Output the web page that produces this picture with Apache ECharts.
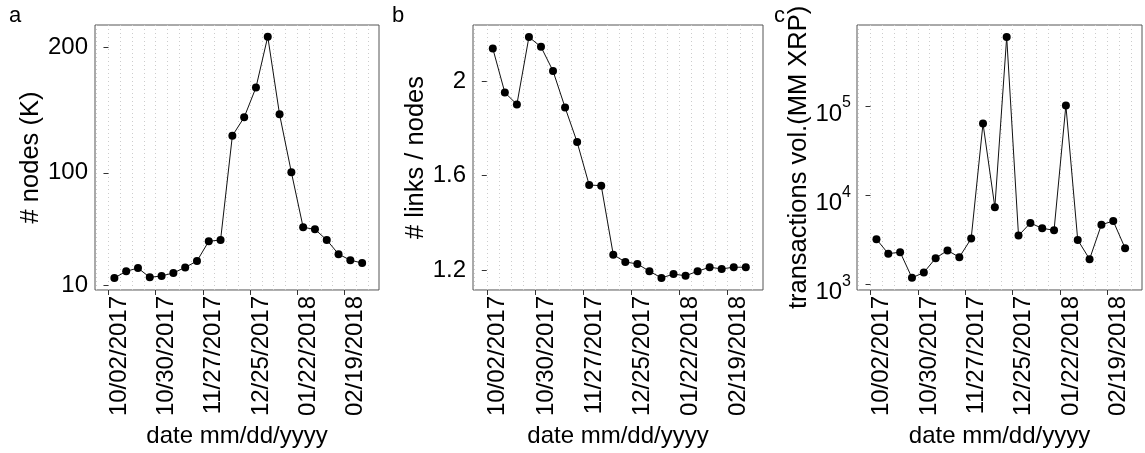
<!DOCTYPE html>
<html>
<head>
<meta charset="utf-8">
<script src="https://cdn.jsdelivr.net/npm/echarts@6/dist/echarts.min.js"></script>
<style>
html, body { margin: 0; padding: 0; background: #fff; }
#chart { width: 1145px; height: 453px; }
</style>
</head>
<body>
<div id="chart"></div>
<script>
// weekly values, each plotted in the middle of its week
var weeks = ['2017-10-05T12:00', '2017-10-12T12:00', '2017-10-19T12:00', '2017-10-26T12:00',
  '2017-11-02T12:00', '2017-11-09T12:00', '2017-11-16T12:00', '2017-11-23T12:00',
  '2017-11-30T12:00', '2017-12-07T12:00', '2017-12-14T12:00', '2017-12-21T12:00',
  '2017-12-28T12:00', '2018-01-04T12:00', '2018-01-11T12:00', '2018-01-18T12:00',
  '2018-01-25T12:00', '2018-02-01T12:00', '2018-02-08T12:00', '2018-02-15T12:00',
  '2018-02-22T12:00', '2018-03-01T12:00']
var nodes = [16.1, 21.4, 24, 16.6, 17.7, 20.1, 24.5, 29.6, 45.4, 46.4, 129.6,
  144.3, 168.1, 208.7, 146.7, 100.5, 56.5, 54.9, 46.4, 35.1, 30.3, 28]
var linksPerNode = [2.137, 1.951, 1.901, 2.185, 2.144, 2.042, 1.888, 1.742, 1.561, 1.558, 1.267,
  1.236, 1.228, 1.197, 1.169, 1.185, 1.178, 1.197, 1.214, 1.207, 1.214, 1.214]
var txVolume = [3200, 2200, 2290, 1180, 1350, 1960, 2390, 2010, 3250, 63600, 7320,
  596000, 3510, 4860, 4240, 4030, 101700, 3140, 1910, 4660, 5110, 2540]

var dateTicks = ['2017-10-02', '2017-10-30', '2017-11-27', '2017-12-25', '2018-01-22', '2018-02-19']
var weekLines = ['2017-09-25', '2017-10-02', '2017-10-09', '2017-10-16', '2017-10-23', '2017-10-30',
  '2017-11-06', '2017-11-13', '2017-11-20', '2017-11-27', '2017-12-04', '2017-12-11',
  '2017-12-18', '2017-12-25', '2018-01-01', '2018-01-08', '2018-01-15', '2018-01-22',
  '2018-01-29', '2018-02-05', '2018-02-12', '2018-02-19', '2018-02-26', '2018-03-05']
var nodesTicks = [10, 100, 200]
var ratioTicks = [1.2, 1.6, 2]
var volumeTicks = [1000, 10000, 100000]

var FONT = 'Liberation Sans'
var DAY = 86400000
var ORIGIN = Date.parse('2017-10-02T00:00Z')

// date string -> days since 10/02/2017 (x axes are in days)
function day (s) {
  return (Date.parse(s.length === 10 ? s + 'T00:00Z' : s + 'Z') - ORIGIN) / DAY
}
function pad (n) {
  return n < 10 ? '0' + n : '' + n
}
// the empty first line pushes the rotated label to the right of its tick
function fmtDate (v) {
  var d = new Date(ORIGIN + v * DAY)
  return '\n' + pad(d.getUTCMonth() + 1) + '/' + pad(d.getUTCDate()) + '/' + d.getUTCFullYear()
}
function zip (xs, ys) {
  return xs.map(function (x, i) { return [day(x), ys[i]] })
}

var xMin = day('2017-09-24')
var xMax = day('2018-03-11T12:00')
var tickDays = dateTicks.map(day)
var lineDays = weekLines.map(day)

var grids = [
  { left: 95, top: 25, width: 284, height: 266 },
  { left: 473, top: 25, width: 290, height: 266 },
  { left: 857, top: 25, width: 285, height: 266 }
]

var xAxes = []
grids.forEach(function (g, i) {
  xAxes.push({
    type: 'value',
    gridIndex: i,
    min: xMin,
    max: xMax,
    position: 'bottom',
    name: 'date mm/dd/yyyy',
    nameLocation: 'middle',
    nameGap: 133,
    nameTextStyle: { fontFamily: FONT, fontSize: 24, color: '#000' },
    axisLine: { show: false },
    axisTick: { customValues: tickDays, length: 5, lineStyle: { color: '#333' } },
    axisLabel: {
      customValues: tickDays,
      rotate: 90,
      margin: 6,
      lineHeight: 22,
      fontFamily: FONT,
      fontSize: 24,
      color: '#000',
      formatter: fmtDate
    },
    splitLine: { show: false }
  })
  // weekly dotted grid lines
  xAxes.push({
    type: 'value',
    gridIndex: i,
    min: xMin,
    max: xMax,
    position: 'top',
    axisLine: { show: false },
    axisTick: { show: false, customValues: lineDays },
    axisLabel: { show: false },
    splitLine: { show: true, lineStyle: { color: '#cccccc', type: [1, 3], width: 1 } }
  })
})

function yAxis (i, name, gap, extra) {
  return Object.assign({
    gridIndex: i,
    name: name,
    nameLocation: 'middle',
    nameRotate: 90,
    nameGap: gap,
    nameTextStyle: { fontFamily: FONT, fontSize: 25.5, color: '#000' },
    axisLine: { show: false },
    splitLine: { show: false }
  }, extra)
}

var yAxes = [
  yAxis(0, '# nodes (K)', 39, {
    type: 'value',
    min: 6.5,
    max: 218,
    axisTick: { customValues: nodesTicks, length: 5, lineStyle: { color: '#333' } },
    axisLabel: { customValues: nodesTicks, margin: 7, fontFamily: FONT, fontSize: 24, color: '#000' }
  }),
  yAxis(1, '# links / nodes', 41, {
    type: 'value',
    min: 1.118,
    max: 2.236,
    axisTick: { customValues: ratioTicks, length: 5, lineStyle: { color: '#333' } },
    axisLabel: { customValues: ratioTicks, margin: 7, fontFamily: FONT, fontSize: 24, color: '#000' }
  }),
  yAxis(2, 'transactions vol.(MM XRP)', 45, {
    type: 'log',
    min: 861,
    max: 812800,
    axisTick: { customValues: volumeTicks, length: 5, lineStyle: { color: '#333' } },
    axisLabel: {
      customValues: volumeTicks,
      margin: 6,
      formatter: function (v) {
        return '{b|10}{s|' + Math.round(Math.log10(v)) + '}'
      },
      rich: {
        b: { fontFamily: FONT, fontSize: 24, color: '#000', lineHeight: 24, padding: [16, 0, 0, 0] },
        s: { fontFamily: FONT, fontSize: 16, color: '#000', lineHeight: 16, padding: [9, 0, 15, 0] }
      }
    }
  })
]

function lineSeries (i, values) {
  return {
    type: 'line',
    xAxisIndex: i * 2,
    yAxisIndex: i,
    data: zip(weeks, values),
    symbol: 'circle',
    symbolSize: 8,
    itemStyle: { color: '#000' },
    lineStyle: { color: '#111', width: 1 },
    emphasis: { disabled: true }
  }
}

function letter (text, left) {
  return { text: text, left: left, top: 5, padding: 0, textStyle: { fontFamily: FONT, fontSize: 22, fontWeight: 'normal', color: '#000' } }
}

var chart = echarts.init(document.getElementById('chart'))
chart.setOption({
  animation: false,
  backgroundColor: '#fff',
  title: [letter('a', 9), letter('b', 392), letter('c', 774)],
  grid: grids.map(function (g) {
    return Object.assign({ show: true, borderColor: '#555', borderWidth: 1, containLabel: false }, g)
  }),
  xAxis: xAxes,
  yAxis: yAxes,
  series: [
    lineSeries(0, nodes),
    lineSeries(1, linksPerNode),
    lineSeries(2, txVolume)
  ]
})
</script>
</body>
</html>
